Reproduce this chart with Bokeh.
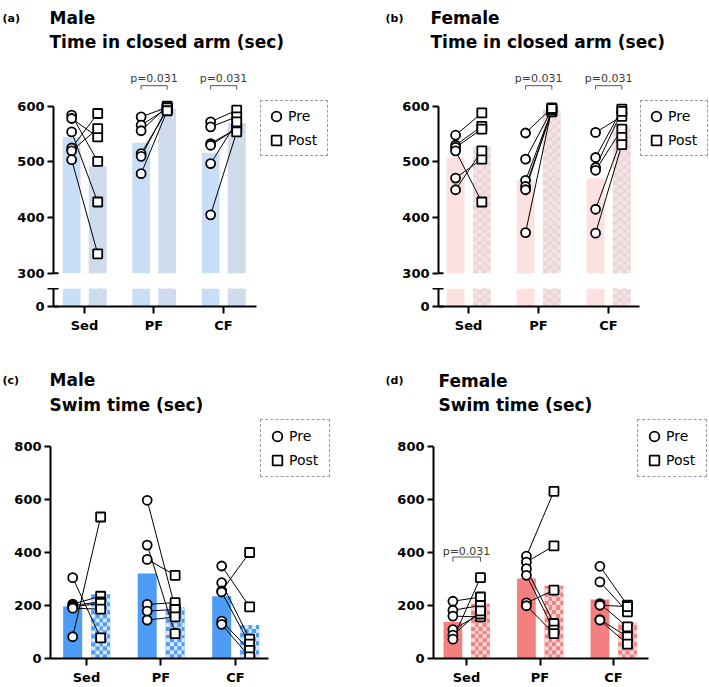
import numpy as np
from bokeh.plotting import figure
from bokeh.models import FixedTicker, Label, Legend, LegendItem, Range1d
from bokeh.layouts import column, row
from bokeh.embed import file_html
from bokeh.resources import INLINE
from bokeh.core.properties import value

# ---------------------------------------------------------------- data
groups = ["Sed", "PF", "CF"]

# Elevated plus maze, time in closed arm (sec); one entry per animal, pre/post paired by position
male_arm_pre = [
    [584, 578, 554, 525, 520, 504],
    [581, 566, 556, 515, 510, 479],
    [572, 563, 533, 530, 497, 405],
]
male_arm_post = [
    [501, 545, 428, 587, 560, 335],
    [598, 596, 600, 594, 597, 592],
    [593, 581, 560, 560, 572, 554],
]
female_arm_pre = [
    [548, 530, 526, 520, 471, 450],
    [552, 505, 467, 456, 450, 373],
    [553, 508, 490, 485, 415, 372],
]
female_arm_post = [
    [588, 564, 559, 428, 505, 520],
    [597, 594, 592, 590, 593, 596],
    [582, 595, 591, 559, 544, 531],
]

# Forced swim test, swim time (sec)
male_swim_pre = [
    [305, 205, 200, 195, 190, 82],
    [597, 428, 374, 204, 179, 145],
    [349, 286, 255, 251, 141, 129],
]
male_swim_post = [
    [78, 235, 214, 208, 186, 534],
    [191, 94, 314, 211, 185, 157],
    [195, 73, 400, 54, 31, 6],
]
female_swim_pre = [
    [216, 182, 160, 109, 88, 73],
    [386, 364, 339, 314, 210, 199],
    [348, 289, 207, 201, 147, 145],
]
female_swim_post = [
    [232, 200, 157, 168, 180, 305],
    [631, 425, 132, 107, 258, 94],
    [201, 176, 119, 196, 82, 54],
]

# groups with a significant pre/post difference
male_arm_sig = ["PF", "CF"]
female_arm_sig = ["PF", "CF"]
male_swim_sig = []
female_swim_sig = ["Sed"]
p_text = "p=0.031"

# ---------------------------------------------------------------- style
FONT = "DejaVu Sans"
PRE_OFF, POST_OFF, BAR_W = -0.185, 0.19, 0.255
CELL_PX = 4   # checker cell size on the post-test bars
MALE_LIGHT, MALE_LIGHT_CHECK = "#c8ddf6", (214, 217, 226)
FEMALE_LIGHT, FEMALE_LIGHT_CHECK = "#fde0e0", (226, 218, 218)
MALE_BRIGHT, MALE_BRIGHT_CHECK = "#4d9cf5", (214, 229, 248)
FEMALE_BRIGHT, FEMALE_BRIGHT_CHECK = "#f47f7f", (244, 216, 216)


def base_fig(width, height, left, frame_w, x0, pxu, y_range, top=0, bottom=0, x_axis=True):
    p = figure(width=width, height=height,
               x_range=Range1d(x0, x0 + frame_w / pxu), y_range=y_range,
               min_border_left=left, min_border_right=width - left - frame_w,
               min_border_top=top, min_border_bottom=bottom,
               x_axis_location="below" if x_axis else None,
               toolbar_location=None, output_backend="svg", title=None)
    p.grid.visible = False
    p.outline_line_color = None
    p.background_fill_color = "white"
    p.border_fill_color = "white"
    return p


def style_axis(ax, tick_out=6, tick_in=0, standoff=3):
    ax.axis_line_width = 2
    ax.axis_line_color = "black"
    ax.major_tick_line_width = 2
    ax.major_tick_line_color = "black"
    ax.major_tick_out = tick_out
    ax.major_tick_in = tick_in
    ax.minor_tick_line_color = None
    ax.major_label_text_font = FONT
    ax.major_label_text_font_style = "bold"
    ax.major_label_text_font_size = "13px"
    ax.major_label_text_color = "black"
    ax.major_label_standoff = standoff


def style_group_axis(p, x0, x_end):
    ax = p.xaxis[0]
    ax.ticker = FixedTicker(ticks=[1, 2, 3])
    ax.major_label_overrides = {i + 1: g for i, g in enumerate(groups)}
    ax.bounds = (x0, x_end)
    style_axis(ax, tick_out=7, standoff=4)


def checker_image(rows, cols, rgb):
    img = np.zeros((rows, cols), dtype=np.uint32)
    view = img.view(dtype=np.uint8).reshape((rows, cols, 4))
    mask = (np.add.outer(np.arange(rows), np.arange(cols)) % 2) == 0
    view[mask] = [rgb[0], rgb[1], rgb[2], 255]
    return img


def bars(p, pre, post, bottom, base, check, pxu, pxv):
    cats = np.arange(1, len(groups) + 1)
    pre_mean = [float(np.mean(v)) for v in pre]
    post_mean = [float(np.mean(v)) for v in post]
    p.vbar(x=cats + PRE_OFF, top=pre_mean, bottom=bottom, width=BAR_W,
           fill_color=base, line_color=None)
    p.vbar(x=cats + POST_OFF, top=post_mean, bottom=bottom, width=BAR_W,
           fill_color=base, line_color=None)
    # checkered texture laid over each post-test bar, same extent as the bar
    for c, top in zip(cats, post_mean):
        rows = max(1, int(round((top - bottom) * pxv / CELL_PX)))
        cols = max(1, int(round(BAR_W * pxu / CELL_PX)))
        p.image_rgba(image=[checker_image(rows, cols, check)], x=c + POST_OFF - BAR_W / 2,
                     y=bottom, dw=BAR_W, dh=top - bottom)


def paired_marks(p, pre, post):
    xs_pre, ys_pre, xs_post, ys_post = [], [], [], []
    for i, (a, b) in enumerate(zip(pre, post)):
        xs_pre += [i + 1 + PRE_OFF] * len(a)
        ys_pre += list(a)
        xs_post += [i + 1 + POST_OFF] * len(b)
        ys_post += list(b)
    p.segment(x0=xs_pre, y0=ys_pre, x1=xs_post, y1=ys_post, line_color="black", line_width=1)
    r_pre = p.scatter(xs_pre, ys_pre, marker="circle", size=9, fill_color="white",
                      line_color="black", line_width=1.8)
    r_post = p.scatter(xs_post, ys_post, marker="square", size=9, fill_color="white",
                       line_color="black", line_width=1.8)
    return r_pre, r_post


def add_legend(p, r_pre, r_post, loc, pad):
    lg = Legend(items=[LegendItem(label="Pre", renderers=[r_pre]),
                       LegendItem(label="Post", renderers=[r_post])],
                location=loc, orientation="vertical", padding=pad, spacing=0, margin=0,
                glyph_width=24, glyph_height=24, label_standoff=0, label_width=36,
                label_height=20,
                label_text_font=FONT, label_text_font_size="14px", label_text_color="black",
                border_line_color="#2e3a66", border_line_dash="3 2", border_line_width=1.2,
                background_fill_color="white", background_fill_alpha=1.0)
    p.add_layout(lg)


def sig_marks(p, sig, y_text, y_top, y_foot):
    for g in sig:
        c = groups.index(g) + 1
        xl, xr = c + PRE_OFF, c + POST_OFF
        p.line([xl, xl, xr, xr], [y_foot, y_top, y_top, y_foot], line_color="#555555", line_width=1)
        p.text(x=[c], y=[y_text], text=[p_text], text_align="center", text_baseline="alphabetic",
               text_font=value(FONT), text_font_size="11px", text_color="#3a3a3a")


def header(width, height, tag, tag_x, tag_base, title_x, line1, base1, line2, base2):
    h = figure(width=width, height=height, x_range=Range1d(0, width), y_range=Range1d(0, height),
               min_border=0, x_axis_location=None, y_axis_location=None,
               toolbar_location=None, output_backend="svg", title=None)
    h.grid.visible = False
    h.outline_line_color = None
    common = dict(text_font=FONT, text_font_style="bold", text_baseline="alphabetic",
                  text_color="black")
    h.add_layout(Label(x=tag_x, y=height - tag_base, text=tag, text_font_size="11px", **common))
    h.add_layout(Label(x=title_x, y=height - base1, text=line1, text_font_size="17px", **common))
    h.add_layout(Label(x=title_x, y=height - base2, text=line2, text_font_size="17px", **common))
    return h


# ---------------------------------------------------------------- closed-arm panels (broken y axis)
K_ARM = 167 / 300          # px per second
TOP_FRAME, TOP_H = 213, 226
LOW_FRAME, LOW_H = 18, 52


def arm_panel(pre, post, sig, base, check, width, left, frame_w, pxu, x0, x_end, legend_x):
    top = base_fig(width, TOP_H, left, frame_w, x0, pxu,
                   Range1d(296, 296 + TOP_FRAME / K_ARM), top=0, bottom=TOP_H - TOP_FRAME,
                   x_axis=False)
    ax = top.yaxis[0]
    ax.ticker = FixedTicker(ticks=[300, 400, 500, 600])
    ax.bounds = (300, 600)
    style_axis(ax)
    bars(top, pre, post, 300, base, check, pxu, K_ARM)
    # inner half of the break mark at 300
    top.segment(x0=[x0], x1=[x0 + 5 / pxu], y0=[300], y1=[300], line_color="black", line_width=2)
    r_pre, r_post = paired_marks(top, pre, post)
    sig_marks(top, sig, 650, 637, 630)
    add_legend(top, r_pre, r_post, (legend_x, 119), 3)

    low = base_fig(width, LOW_H, left, frame_w, x0, pxu,
                   Range1d(0, LOW_FRAME / K_ARM), top=0, bottom=LOW_H - LOW_FRAME)
    ay = low.yaxis[0]
    ay.ticker = FixedTicker(ticks=[0, 32])
    ay.major_label_overrides = {32: ""}
    ay.bounds = (0, 32)
    style_axis(ay, tick_in=5)
    style_group_axis(low, x0, x_end)
    bars(low, pre, post, 0, base, check, pxu, K_ARM)
    return column(top, low, spacing=0)


# ---------------------------------------------------------------- swim panels
K_SWIM = 212 / 800
SWIM_FRAME, SWIM_H = 243, 272


def swim_panel(pre, post, sig, base, check, width, left, frame_w, pxu, x0, x_end, legend_x):
    p = base_fig(width, SWIM_H, left, frame_w, x0, pxu,
                 Range1d(0, SWIM_FRAME / K_SWIM), top=0, bottom=SWIM_H - SWIM_FRAME)
    ay = p.yaxis[0]
    ay.ticker = FixedTicker(ticks=[0, 200, 400, 600, 800])
    ay.bounds = (0, 800)
    style_axis(ay)
    style_group_axis(p, x0, x_end)
    bars(p, pre, post, 0, base, check, pxu, K_SWIM)
    r_pre, r_post = paired_marks(p, pre, post)
    sig_marks(p, sig, 405, 383, 365)
    add_legend(p, r_pre, r_post, (legend_x, 181), 4)
    return p


head_a = header(354, 62, "(a)", 2, 17.5, 49, "Male", 17, "Time in closed arm (sec)", 41)
head_b = header(355, 62, "(b)", 31, 17.5, 76, "Female", 17, "Time in closed arm (sec)", 41)
head_c = header(354, 75, "(c)", 2, 40, 49, "Male", 39, "Swim time (sec)", 64)
head_d = header(355, 75, "(d)", 31, 40, 84, "Female", 40, "Swim time (sec)", 64)

panel_a = arm_panel(male_arm_pre, male_arm_post, male_arm_sig, MALE_LIGHT, MALE_LIGHT_CHECK,
                    354, 53, 277, 69.5, 0.554, 3.475, 207)
panel_b = arm_panel(female_arm_pre, female_arm_post, female_arm_sig, FEMALE_LIGHT, FEMALE_LIGHT_CHECK,
                    355, 84, 271, 70.0, 0.571, 3.442, 202)
panel_c = swim_panel(male_swim_pre, male_swim_post, male_swim_sig, MALE_BRIGHT, MALE_BRIGHT_CHECK,
                     354, 50, 280, 74.5, 0.517, 3.443, 210)
panel_d = swim_panel(female_swim_pre, female_swim_post, female_swim_sig, FEMALE_BRIGHT, FEMALE_BRIGHT_CHECK,
                     355, 79, 276, 73.5, 0.551, 3.476, 204)

layout = column(
    row(head_a, head_b, spacing=0),
    row(panel_a, panel_b, spacing=0),
    row(head_c, head_d, spacing=0),
    row(panel_c, panel_d, spacing=0),
    spacing=0,
)

open("out.html", "w").write(file_html(layout, INLINE))
